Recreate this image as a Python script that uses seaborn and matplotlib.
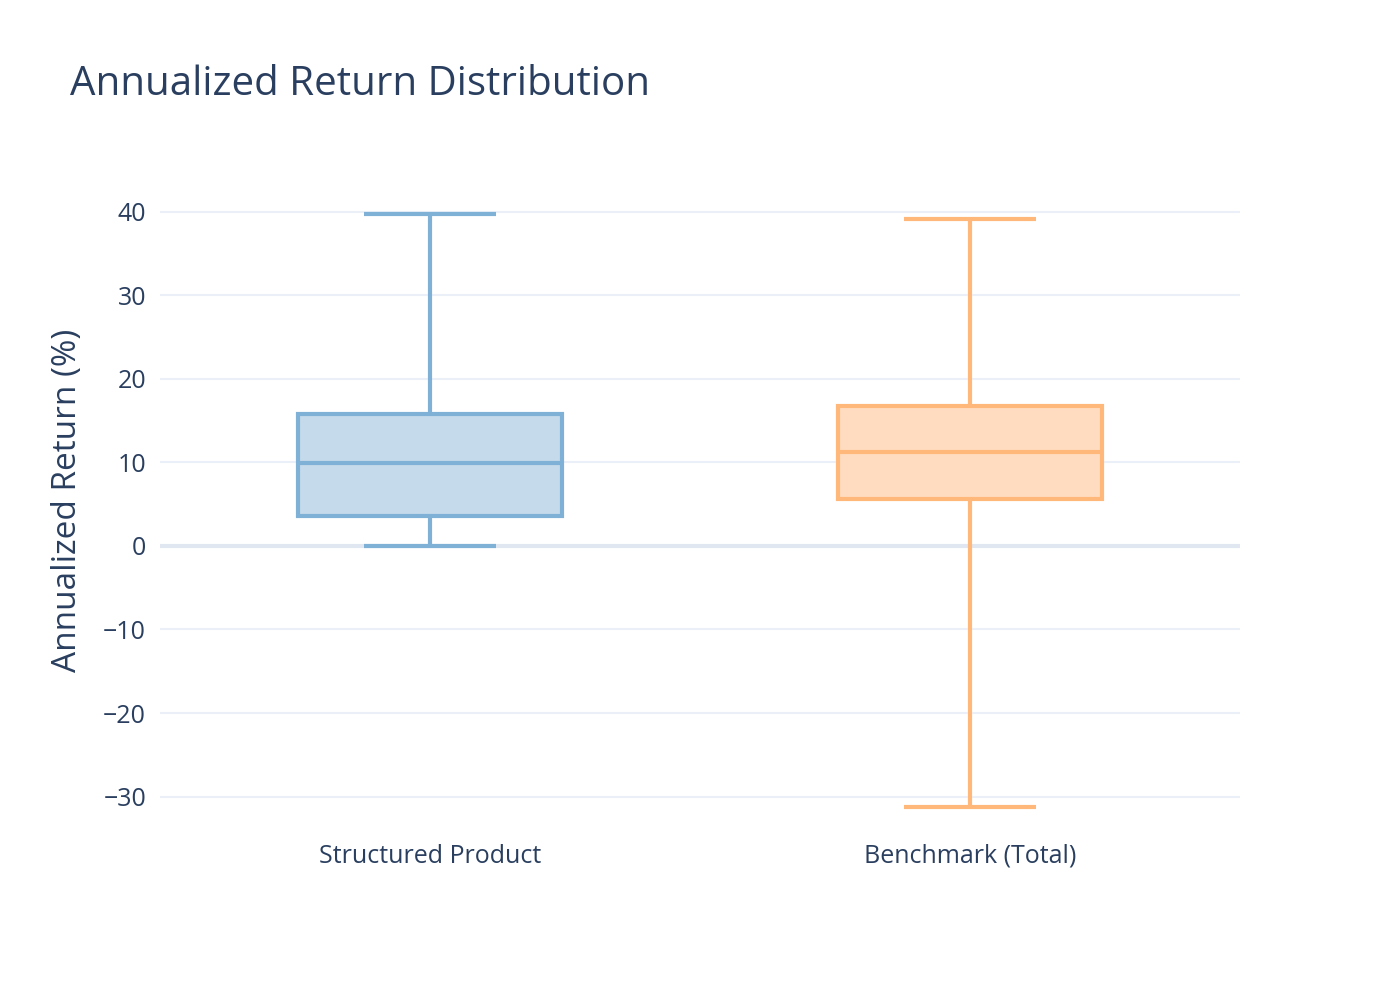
import matplotlib
matplotlib.use("Agg")
import matplotlib.pyplot as plt
import seaborn as sns
import pandas as pd

categories = ["Structured Product", "Benchmark (Total)"]
# five-number summaries: min, q1, median, q3, max
structured = [0.0, 3.6, 9.9, 15.8, 39.7]
benchmark = [-31.2, 5.6, 11.2, 16.8, 39.1]
colors = ["#7fb0d5", "#ffb87a"]
fills = ["#c5daea", "#ffdcbf"]

df = pd.DataFrame({
    "cat": [categories[0]] * len(structured) + [categories[1]] * len(benchmark),
    "val": structured + benchmark,
})

sns.set_style("white")
plt.rcParams['font.family'] = ['Open Sans', 'DejaVu Sans']
fig = plt.figure(figsize=(14, 10), dpi=100)
ax = fig.add_axes([160/1400, 170/1000, 1080/1400, 660/1000])

sns.boxplot(data=df, x="cat", y="val", hue="cat", palette=fills, legend=False,
            whis=float("inf"), width=0.49, linewidth=3, ax=ax, zorder=3)

# colour the outlines per box
nlines = len(ax.lines) // 2
for i, patch in enumerate(ax.patches):
    patch.set_edgecolor(colors[i])
    patch.set_facecolor(fills[i])
for i, ln in enumerate(ax.lines):
    ln.set_color(colors[0] if i < len(ax.lines) // 2 else colors[1])
    ln.set_solid_capstyle("butt")

ax.set_ylim(-34, 45)
ax.set_xlim(-0.5, 1.5)
ax.set_yticks([-30, -20, -10, 0, 10, 20, 30, 40])
ax.set_yticklabels(["\u221230", "\u221220", "\u221210", "0", "10", "20", "30", "40"])
ax.grid(axis="y", color="#ebf0f8", linewidth=1.5, zorder=0)
ax.axhline(0, color="#e1e7f0", linewidth=3, zorder=1)
for s in ax.spines.values():
    s.set_visible(False)
ax.tick_params(axis="both", length=0, labelsize=18, labelcolor="#2a3f5f", pad=10)
ax.set_xlabel("")
ax.set_ylabel("Annualized Return (%)", fontsize=24, color="#2a3f5f", labelpad=14)
fig.text(70/1400, 1 - 85/1000, "Annualized Return Distribution", fontsize=29,
         color="#2a3f5f", va="center")
fig.savefig("out.png", dpi=100, facecolor="white")
